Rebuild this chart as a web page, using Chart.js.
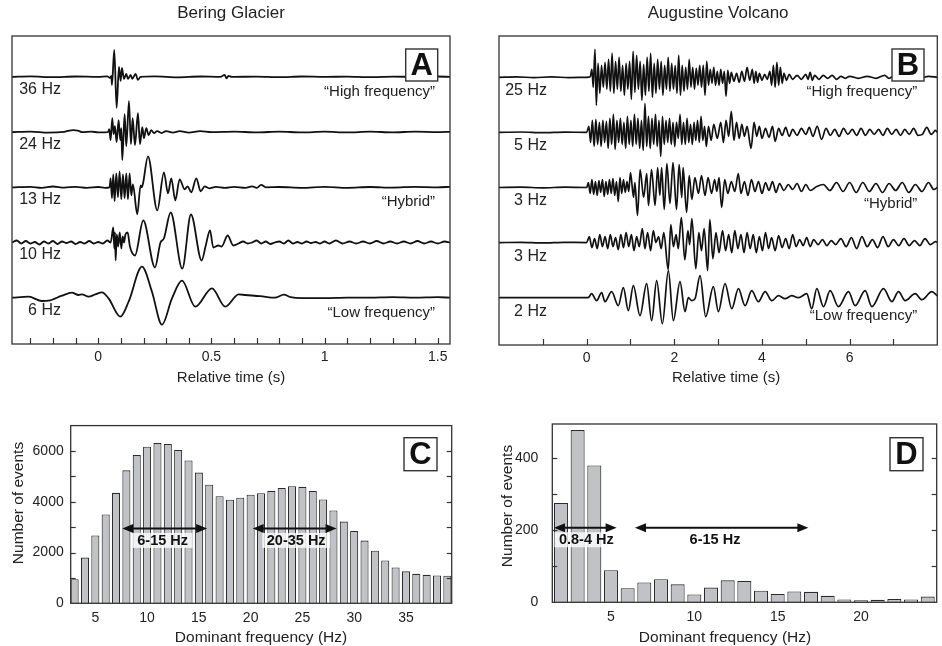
<!DOCTYPE html>
<html><head><meta charset="utf-8">
<script src="https://cdn.jsdelivr.net/npm/chart.js@4.4.1/dist/chart.umd.min.js"></script>
<style>
html,body{margin:0;padding:0;background:#fff;}
#wrap{position:relative;width:942px;height:646px;overflow:hidden;background:#fff;}
canvas{position:absolute;}
</style></head><body>
<div id="wrap">
<canvas id="cA" width="470" height="395" style="left:0;top:0"></canvas>
<canvas id="cB" width="472" height="395" style="left:470px;top:0"></canvas>
<canvas id="cC" width="470" height="251" style="left:0;top:395px"></canvas>
<canvas id="cD" width="472" height="251" style="left:470px;top:395px"></canvas>
</div>
<script>
// ---------- DATA ----------
const panelTitles = ['Bering Glacier', 'Augustine Volcano'];
const traceLabelsA = ['36 Hz', '24 Hz', '13 Hz', '10 Hz', '6 Hz'];
const traceLabelsB = ['25 Hz', '5 Hz', '3 Hz', '3 Hz', '2 Hz'];
const typeLabels = ['\u201cHigh frequency\u201d', '\u201cHybrid\u201d', '\u201cLow frequency\u201d'];
const timeTicksA = [0, 0.5, 1, 1.5];
const timeTickLabelsA = ['0', '0.5', '1', '1.5'];
const timeMinorA = [-0.3, -0.2, -0.1, 0, 0.1, 0.2, 0.3, 0.4, 0.5, 0.6, 0.7, 0.8, 0.9, 1, 1.1, 1.2, 1.3, 1.4, 1.5];
const timeTicksB = [0, 2, 4, 6];
const timeTickLabelsB = ['0', '2', '4', '6'];
const timeMinorB = [-1, 0, 1, 2, 3, 4, 5, 6, 7];

// Bering Glacier traces: [time (s), amplitude]
const traceA36 = [[-0.381,0],[-0.3,0.5],[-0.2,-0.3],[-0.1,0.4],[0,0],[0.04,0.5],[0.052,-1],[0.058,1],[0.0605,-8],[0.0708,27],[0.0812,-31],[0.0915,10],[0.0989,-4],[0.1047,9],[0.1136,-2],[0.1239,3],[0.1312,-2],[0.1433,2],[0.150,-2],[0.165,3],[0.175,-3],[0.187,0],[0.25,0.5],[0.35,-0.4],[0.45,0.4],[0.54,0],[0.558,2],[0.567,-1.5],[0.575,1],[0.59,0],[0.7,0.3],[0.8,-0.3],[0.9,0.4],[1.0,0],[1.1,0.3],[1.2,-0.3],[1.3,0.3],[1.4,0],[1.5,0.4],[1.554,0]];
const traceA24 = [[-0.381,0],[-0.3,0.5],[-0.22,-0.5],[-0.15,0.3],[-0.11,2],[-0.09,1.5],[-0.07,0],[-0.03,0.5],[0,-0.3],[0.0429,0],[0.0487,3],[0.0547,-8],[0.0620,14],[0.0679,-2],[0.0738,6],[0.0812,-10],[0.0900,12],[0.0974,-8],[0.1018,4],[0.1062,-28],[0.1165,18],[0.1239,-14],[0.1357,31],[0.1445,-12],[0.1519,14],[0.1622,-13],[0.1754,19],[0.1843,-12],[0.1946,5],[0.2019,-6],[0.2122,4],[0.2226,-3],[0.2343,2],[0.2461,-1],[0.26,1],[0.28,-1],[0.30,1],[0.33,-0.5],[0.36,1],[0.40,-0.5],[0.45,1],[0.50,0],[0.6,0.5],[0.7,-0.3],[0.8,0.5],[0.9,-0.3],[1.0,0.4],[1.1,-0.3],[1.2,0.4],[1.3,-0.2],[1.4,0.4],[1.5,0],[1.554,0.3]];
const traceA13 = [[-0.381,0],[-0.3,0.5],[-0.25,-0.5],[-0.2,0.8],[-0.15,-0.3],[-0.1,0.5],[-0.05,-0.5],[0,0.3],[0.03,-0.5],[0.050,0],[0.0547,9],[0.0605,-11],[0.0664,13],[0.0723,-14],[0.0797,14],[0.0870,-10],[0.0944,16],[0.1018,-12],[0.1091,13],[0.1165,-11],[0.1239,14],[0.1312,-12],[0.1386,14],[0.146,-8],[0.153,3],[0.1725,-27],[0.187,2],[0.192,0],[0.198,4],[0.2196,31],[0.2608,-23],[0.2903,15],[0.308,-6],[0.3227,9],[0.3404,-13],[0.3596,8],[0.3817,-2],[0.395,1],[0.411,-5],[0.4332,9],[0.4523,-4],[0.470,1],[0.49,-1],[0.52,0.5],[0.56,-0.5],[0.60,0.5],[0.65,-0.5],[0.68,1],[0.70,-0.5],[0.72,2.5],[0.74,0],[0.8,0.3],[0.9,-0.5],[1.0,0.5],[1.1,-0.5],[1.2,0.3],[1.3,-0.3],[1.4,0.5],[1.5,0],[1.554,0.5]];
const traceA10 = [[-0.381,0],[-0.36,2],[-0.34,-1],[-0.32,1.5],[-0.30,-1],[-0.28,0.5],[-0.26,-2],[-0.24,1],[-0.22,-1],[-0.20,1.5],[-0.18,-1.5],[-0.16,1],[-0.14,-0.5],[-0.12,1],[-0.10,-1.5],[-0.08,0.5],[-0.06,-1],[-0.04,1.5],[-0.02,-1],[0,0.5],[0.02,-1],[0.04,2],[0.055,0],[0.0664,15],[0.0710,-6],[0.0740,10],[0.0768,-18],[0.082,8],[0.088,-4],[0.095,10],[0.102,-6],[0.108,6],[0.114,0],[0.120,8],[0.1298,10],[0.140,-4],[0.1622,-13],[0.199,22],[0.2506,-25],[0.275,0],[0.29,4],[0.3198,30],[0.3713,-26],[0.4096,28],[0.4568,-18],[0.475,-3],[0.4936,12],[0.5083,-5],[0.53,-3],[0.545,-4],[0.5717,7],[0.5967,-3],[0.62,-1],[0.64,1],[0.66,-1],[0.68,0],[0.70,2],[0.72,-1],[0.74,1],[0.76,-1.5],[0.78,0],[0.80,1],[0.82,-1],[0.84,2],[0.86,-1],[0.88,0.5],[0.90,-1],[0.92,1],[0.94,-0.5],[0.96,0.5],[0.98,-1],[1.00,1],[1.02,-1],[1.05,2],[1.08,-1],[1.11,1],[1.14,-1],[1.17,1],[1.20,-1],[1.23,1.5],[1.26,-1],[1.29,1],[1.32,-1],[1.35,1],[1.38,-1],[1.41,1.5],[1.44,-1],[1.47,1],[1.50,-1],[1.53,1],[1.554,0]];
const traceA6 = [[-0.381,0],[-0.3077,1],[-0.2488,-3.3],[-0.2193,-3],[-0.1604,2],[-0.1162,5],[-0.0868,2.7],[-0.072,3.3],[-0.0426,1],[-0.0131,3.3],[0.0164,5.3],[0.0458,-0.7],[0.0974,-19],[0.1342,-4],[0.1931,31],[0.2373,6],[0.2815,-27],[0.3257,-0.7],[0.3699,17],[0.4288,-9],[0.5024,9.3],[0.5613,-9],[0.6203,3.3],[0.6497,2.7],[0.716,1.5],[0.78,0],[0.82,3],[0.85,0.5],[0.9,-0.5],[1.0,-0.5],[1.1,0],[1.2,0],[1.3,0.5],[1.4,0],[1.5,0.5],[1.554,0]];

// Augustine Volcano traces: [time (s), amplitude]
const traceB25 = [[-2,0],[-1.6,0.4],[-1.2,-0.3],[-0.8,0.4],[-0.4,-0.3],[0,0],[0.08,0.5],[0.12,8],[0.15,-10],[0.19,28],[0.22,-28],[0.26,14],[0.30,-16],[0.34,12],[0.38,-10],[0.42,15],[0.46,-12],[0.50,18],[0.54,-14],[0.58,24],[0.62,-16],[0.66,16],[0.70,-12],[0.74,20],[0.78,-14],[0.82,12],[0.86,-18],[0.90,14],[0.94,-12],[0.98,16],[1.02,-22],[1.06,26],[1.10,-15],[1.14,22],[1.18,-12],[1.22,16],[1.26,-23],[1.30,13],[1.34,-18],[1.38,20],[1.42,-14],[1.46,24],[1.50,-20],[1.54,14],[1.58,-16],[1.62,18],[1.66,-12],[1.70,16],[1.74,-18],[1.78,12],[1.82,-12],[1.86,20],[1.90,-14],[1.94,14],[1.98,-12],[2.02,12],[2.06,-16],[2.10,22],[2.14,-18],[2.18,12],[2.22,-14],[2.26,10],[2.30,-12],[2.34,18],[2.38,-10],[2.42,10],[2.46,-12],[2.50,9],[2.54,-8],[2.58,12],[2.62,-10],[2.66,12],[2.70,-18],[2.74,16],[2.78,-8],[2.82,8],[2.86,-6],[2.90,10],[2.94,-8],[2.98,6],[3.02,-8],[3.06,8],[3.10,-6],[3.14,6],[3.18,-19],[3.22,7],[3.26,-6],[3.30,5],[3.36,-4],[3.42,4],[3.48,-5],[3.54,6],[3.60,-4],[3.66,10],[3.72,-3],[3.78,8],[3.82,-6],[3.86,6],[3.90,-5],[3.94,4],[4.00,-3],[4.06,3],[4.12,-2],[4.18,6],[4.22,-8],[4.26,12],[4.30,-10],[4.34,15],[4.38,-8],[4.42,10],[4.46,-6],[4.50,4],[4.56,-3],[4.62,3],[4.70,-2],[4.80,2],[4.90,-2],[5.00,3],[5.05,-2],[5.10,5],[5.15,-3],[5.20,2],[5.30,-2],[5.40,2],[5.50,-1],[5.60,2],[5.70,-2],[5.80,1],[5.90,-1],[6.00,1],[6.20,-1],[6.40,1],[6.60,-1],[6.80,2],[6.90,-1],[7.00,1],[7.20,-1],[7.40,1],[7.60,-1],[7.80,1],[8.00,0]];
const traceB5 = [[-2,0],[-1.5,0.4],[-1,-0.3],[-0.5,0.3],[0,0],[0.05,6],[0.09,-10],[0.13,12],[0.17,-14],[0.21,13],[0.25,-12],[0.29,10],[0.33,-14],[0.37,12],[0.41,-10],[0.45,11],[0.49,-16],[0.53,14],[0.57,-12],[0.61,18],[0.65,-17],[0.69,12],[0.73,-10],[0.77,14],[0.81,-12],[0.85,10],[0.89,-16],[0.93,16],[0.97,-12],[1.01,12],[1.05,-14],[1.09,18],[1.13,-12],[1.17,14],[1.21,-16],[1.25,12],[1.29,-18],[1.33,29],[1.37,-14],[1.41,16],[1.45,-16],[1.49,14],[1.53,-12],[1.57,18],[1.61,-14],[1.65,12],[1.69,-24],[1.73,16],[1.77,-12],[1.81,12],[1.85,-10],[1.89,14],[1.93,-12],[1.97,10],[2.01,-14],[2.05,10],[2.09,-6],[2.13,18],[2.17,-12],[2.21,10],[2.25,-12],[2.29,14],[2.33,-10],[2.37,8],[2.41,-12],[2.45,10],[2.49,-8],[2.53,12],[2.57,-10],[2.61,16],[2.65,-8],[2.69,6],[2.73,-14],[2.78,6],[2.84,-8],[2.90,8],[2.98,-6],[3.06,10],[3.12,-10],[3.18,12],[3.24,-4],[3.30,21],[3.36,-8],[3.42,10],[3.48,-6],[3.54,8],[3.60,-4],[3.66,6],[3.75,-16],[3.82,10],[3.88,-4],[3.94,6],[4.00,-6],[4.08,4],[4.16,-5],[4.24,6],[4.30,-9],[4.38,4],[4.46,-3],[4.54,5],[4.62,-4],[4.70,3],[4.80,-3],[4.90,4],[5.00,-2],[5.08,5],[5.16,-4],[5.26,6],[5.36,-7],[5.46,4],[5.56,-3],[5.66,3],[5.76,-4],[5.86,4],[5.96,-2],[6.06,3],[6.16,-3],[6.26,4],[6.36,-3],[6.46,3],[6.56,-2],[6.66,3],[6.76,-3],[6.86,4],[6.96,-2],[7.06,3],[7.16,-3],[7.26,3],[7.36,-2],[7.46,4],[7.56,-3],[7.66,-2],[7.76,5],[7.86,-2],[7.96,2],[8.00,0]];
const traceB3a = [[-2,0],[-1.5,0.3],[-1,-0.3],[-0.5,0.3],[0,0],[0.04,5],[0.08,-6],[0.12,8],[0.16,-7],[0.20,6],[0.24,-8],[0.28,7],[0.32,-5],[0.36,8],[0.40,-9],[0.44,6],[0.48,-7],[0.52,8],[0.56,-6],[0.60,9],[0.64,-8],[0.68,6],[0.72,-14],[0.76,10],[0.80,-6],[0.84,8],[0.88,-5],[0.92,6],[0.96,-4],[1.00,15],[1.07,-10],[1.10,5],[1.16,-28],[1.22,18],[1.30,-10],[1.37,14],[1.41,-18],[1.48,18],[1.56,-18],[1.62,20],[1.67,-8],[1.71,20],[1.77,-22],[1.83,24],[1.90,-16],[1.97,25],[2.05,-22],[2.11,23],[2.17,-10],[2.20,20],[2.28,-25],[2.34,12],[2.40,-12],[2.47,10],[2.55,-6],[2.62,12],[2.70,-8],[2.77,10],[2.85,-6],[2.92,8],[2.97,-4],[3.02,10],[3.08,-20],[3.15,8],[3.22,-6],[3.30,6],[3.38,-4],[3.46,14],[3.52,-6],[3.60,6],[3.68,-8],[3.76,8],[3.84,-4],[3.92,6],[4.00,-6],[4.08,5],[4.16,-3],[4.24,6],[4.32,-5],[4.40,4],[4.50,-3],[4.60,3],[4.70,-2],[4.80,4],[4.90,-4],[5.00,3],[5.10,-3],[5.25,1],[5.40,3],[5.55,-3],[5.70,5],[5.85,-4],[6.00,5],[6.15,-5],[6.30,5],[6.45,-4],[6.60,4],[6.75,-5],[6.90,4],[7.05,-3],[7.20,5],[7.35,-5],[7.50,3],[7.65,-4],[7.80,5],[7.92,-2],[8.00,0]];
const traceB3b = [[-2,0],[-1.5,0.3],[-1,-0.3],[-0.5,0.3],[0,0],[0.06,6],[0.12,-5],[0.18,4],[0.24,-6],[0.30,8],[0.36,-4],[0.42,6],[0.48,-6],[0.54,8],[0.60,-4],[0.66,5],[0.72,-7],[0.78,8],[0.84,-5],[0.90,10],[0.96,-4],[1.02,8],[1.08,-8],[1.14,6],[1.20,-4],[1.27,14],[1.33,-6],[1.39,10],[1.46,-8],[1.52,12],[1.58,0],[1.64,6],[1.70,-6],[1.76,10],[1.86,-27],[1.92,18],[1.98,-4],[2.04,8],[2.09,-6],[2.16,25],[2.24,-17],[2.31,12],[2.35,-2],[2.40,24],[2.49,-26],[2.56,10],[2.62,-8],[2.68,14],[2.76,-28],[2.81,23],[2.88,-16],[2.95,10],[3.02,-10],[3.10,12],[3.17,-8],[3.24,8],[3.31,-10],[3.38,12],[3.45,-6],[3.52,8],[3.59,-10],[3.66,10],[3.73,-6],[3.80,8],[3.87,-10],[3.94,6],[4.01,-8],[4.08,10],[4.15,-6],[4.22,5],[4.30,-8],[4.38,7],[4.46,-5],[4.54,4],[4.62,-6],[4.70,8],[4.78,-4],[4.86,3],[4.94,-3],[5.02,5],[5.10,-4],[5.18,3],[5.28,-2],[5.38,3],[5.48,-3],[5.58,2],[5.68,-2],[5.80,4],[5.92,-4],[6.04,5],[6.16,-6],[6.28,6],[6.40,-4],[6.52,3],[6.64,-5],[6.76,6],[6.88,-4],[7.00,3],[7.12,-3],[7.24,4],[7.36,-3],[7.48,2],[7.60,-3],[7.72,4],[7.84,-2],[7.96,1],[8.00,0]];
const traceB2 = [[-2,0],[-1,0],[0,0],[0.05,0.5],[0.113,4],[0.227,-3],[0.342,5],[0.418,-4],[0.570,6],[0.722,-8],[0.837,10],[0.951,-13],[1.065,12],[1.217,-18],[1.369,14],[1.483,-23],[1.597,17],[1.727,-26],[1.864,27],[1.978,-23],[2.130,16],[2.244,-14],[2.320,0],[2.400,-3],[2.473,-1],[2.587,22],[2.716,-19],[2.891,11],[3.005,-14],[3.157,14],[3.310,-11],[3.462,9],[3.614,-8],[3.766,7],[3.918,-4],[4.071,6],[4.223,-3],[4.375,2],[4.527,-1],[4.679,2],[4.831,0],[5.022,4],[5.136,-11],[5.250,9],[5.403,-9],[5.555,7],[5.745,-9],[5.974,6],[6.126,-8],[6.354,7],[6.507,-9],[6.773,9],[6.963,-4],[7.115,6],[7.267,-3],[7.496,4],[7.648,-2],[7.876,6],[8.00,2]];

// Histograms
const freqC = [3,4,5,6,7,8,9,10,11,12,13,14,15,16,17,18,19,20,21,22,23,24,25,26,27,28,29,30,31,32,33,34,35,36,37,38,39];
const countC = [950,1800,2670,3500,4350,5240,5840,6170,6310,6280,6040,5630,5150,4670,4220,4080,4160,4280,4340,4430,4540,4610,4590,4420,4090,3660,3220,2850,2470,2070,1690,1410,1260,1160,1120,1100,1085];
const freqTicksC = [5,10,15,20,25,30,35];
const freqTickLabelsC = ['5','10','15','20','25','30','35'];
const countTicksC = [0,2000,4000,6000];
const countTickLabelsC = ['0','2000','4000','6000'];
const countMinorC = [1000,2000,3000,4000,5000,6000];
const bandsC = [{from:7.6, to:15.8, label:'6-15 Hz', labelX:11.5}, {from:20.2, to:28.3, label:'20-35 Hz', labelX:24.4}];

const freqD = [2,3,4,5,6,7,8,9,10,11,12,13,14,15,16,17,18,19,20,21,22,23,24];
const countD = [276,478,380,89,39,55,64,50,22,41,61,59,32,23,30,29,18,8,6,7,9,8,16];
const freqTicksD = [5,10,15,20];
const freqTickLabelsD = ['5','10','15','20'];
const countTicksD = [0,200,400];
const countTickLabelsD = ['0','200','400'];
const countMinorD = [100,200,300,400];
const bandsD = [{from:1.58, to:5.34, label:'0.8-4 Hz', labelX:3.52}, {from:6.44, to:16.84, label:'6-15 Hz', labelX:11.24}];

// ---------- DRAWING ----------
const FONT = '"Liberation Sans", Arial, Helvetica, sans-serif';
const INK = '#222';
function txt(ctx, s, x, y, size, o) {
  o = o || {};
  ctx.font = (o.bold ? 'bold ' : '') + size + 'px ' + FONT;
  ctx.fillStyle = o.color || INK;
  ctx.textAlign = o.align || 'center';
  ctx.textBaseline = 'middle';
  ctx.fillText(s, x, y);
}
function letterBox(ctx, L, x0, y0, w, h, size) {
  ctx.fillStyle = '#fff';
  ctx.fillRect(x0, y0, w, h);
  ctx.strokeStyle = '#333'; ctx.lineWidth = 1.4;
  ctx.strokeRect(x0, y0, w, h);
  txt(ctx, L, x0 + w / 2, y0 + h / 2 + 1.5, size, {bold: true, color: '#111'});
}
function frame(ctx, a) {
  ctx.strokeStyle = '#333'; ctx.lineWidth = 1.3;
  ctx.strokeRect(a.left, a.top, a.right - a.left, a.bottom - a.top);
}
function arrow(ctx, x1, x2, y) {
  const hl = 11, hw = 4.5;
  ctx.strokeStyle = '#111'; ctx.fillStyle = '#111'; ctx.lineWidth = 2;
  ctx.beginPath(); ctx.moveTo(x1 + hl - 1, y); ctx.lineTo(x2 - hl + 1, y); ctx.stroke();
  ctx.beginPath(); ctx.moveTo(x1, y); ctx.lineTo(x1 + hl, y - hw); ctx.lineTo(x1 + hl, y + hw); ctx.closePath(); ctx.fill();
  ctx.beginPath(); ctx.moveTo(x2, y); ctx.lineTo(x2 - hl, y - hw); ctx.lineTo(x2 - hl, y + hw); ctx.closePath(); ctx.fill();
}

function waveChart(id, traces, cfg) {
  const base = i => cfg.base0 + (traces.length - 1 - i) * cfg.gap;
  return new Chart(document.getElementById(id), {
    type: 'line',
    data: {datasets: traces.map((tr, i) => ({
      data: tr.map(p => ({x: p[0], y: base(i) + p[1]})),
      borderColor: '#111', borderWidth: cfg.lw, pointRadius: 0, fill: false,
      cubicInterpolationMode: 'monotone'
    }))},
    options: {
      responsive: false, animation: false, events: [], devicePixelRatio: 1,
      layout: {padding: cfg.pad},
      plugins: {legend: {display: false}, tooltip: {enabled: false}},
      scales: {
        x: {type: 'linear', min: cfg.xmin, max: cfg.xmax,
            afterBuildTicks: s => { s.ticks = cfg.ticks.map(v => ({value: v})); },
            afterFit: s => { s.height = cfg.xh; },
            grid: {display: false, drawTicks: false}, border: {display: false},
            ticks: {autoSkip: false, maxRotation: 0, padding: 5, color: INK,
                    font: {family: FONT, size: 14}, callback: (v, i) => cfg.tickLabels[i]}},
        y: {display: false, min: 0, max: cfg.ymax}
      }
    },
    plugins: [{id: 'deco', afterDraw(chart) {
      const ctx = chart.ctx, a = chart.chartArea, x = chart.scales.x, y = chart.scales.y;
      ctx.save();
      frame(ctx, a);
      ctx.strokeStyle = '#333'; ctx.lineWidth = 1.2;
      cfg.minor.forEach(v => {
        const px = Math.round(x.getPixelForValue(v)) + 0.5;
        ctx.beginPath(); ctx.moveTo(px, a.bottom); ctx.lineTo(px, a.bottom - 6); ctx.stroke();
      });
      cfg.labels.forEach((L, i) => {
        const py = y.getPixelForValue(base(i));
        txt(ctx, L, a.left + cfg.labelDx, py + cfg.labelDy, 16, {align: 'right'});
      });
      [0, 2, 4].forEach((ti, k) => {
        const py = y.getPixelForValue(base(ti));
        txt(ctx, typeLabels[k], a.right - cfg.typeDx, py + cfg.typeDy[k], 15, {align: 'right'});
      });
      letterBox(ctx, cfg.letter, a.right - cfg.boxDx, a.top + 13, 32, 32, 31);
      txt(ctx, cfg.title, (a.left + a.right) / 2, 13, 17);
      txt(ctx, 'Relative time (s)', (a.left + a.right) / 2 + cfg.xtDx, 378, 15);
      ctx.restore();
    }}]
  });
}

function barChart(id, freqs, counts, cfg) {
  return new Chart(document.getElementById(id), {
    type: 'bar',
    data: {datasets: [{
      data: freqs.map((f, i) => ({x: f, y: counts[i]})),
      backgroundColor: '#c1c2c6', borderColor: '#2b2b2b', borderWidth: 1.1,
      barPercentage: cfg.barPct, categoryPercentage: 1, borderSkipped: 'bottom'
    }]},
    options: {
      responsive: false, animation: false, events: [], devicePixelRatio: 1,
      layout: {padding: cfg.pad},
      plugins: {legend: {display: false}, tooltip: {enabled: false}},
      scales: {
        x: {type: 'linear', offset: false, min: cfg.xmin, max: cfg.xmax,
            afterBuildTicks: s => { s.ticks = cfg.xticks.map(v => ({value: v})); },
            afterFit: s => { s.height = cfg.xh; },
            grid: {display: false, drawTicks: false}, border: {display: false},
            ticks: {autoSkip: false, maxRotation: 0, padding: 6, color: INK,
                    font: {family: FONT, size: 14}, callback: (v, i) => cfg.xlabels[i]}},
        y: {min: 0, max: cfg.ymax,
            afterBuildTicks: s => { s.ticks = cfg.yticks.map(v => ({value: v})); },
            afterFit: s => { s.width = cfg.yw; },
            grid: {display: false, drawTicks: false}, border: {display: false},
            ticks: {autoSkip: false, padding: cfg.ypad, color: INK,
                    font: {family: FONT, size: 14}, callback: (v, i) => cfg.ylabels[i]}}
      }
    },
    plugins: [{id: 'deco', afterDraw(chart) {
      const ctx = chart.ctx, a = chart.chartArea, x = chart.scales.x, y = chart.scales.y;
      ctx.save();
      frame(ctx, a);
      ctx.strokeStyle = '#333'; ctx.lineWidth = 1.2;
      cfg.yminor.forEach(v => {
        const py = Math.round(y.getPixelForValue(v)) + 0.5;
        ctx.beginPath(); ctx.moveTo(a.left, py); ctx.lineTo(a.left + 5, py); ctx.stroke();
        ctx.beginPath(); ctx.moveTo(a.right, py); ctx.lineTo(a.right - 5, py); ctx.stroke();
      });
      cfg.bands.forEach(b => {
        const py = y.getPixelForValue(cfg.arrowY);
        arrow(ctx, x.getPixelForValue(b.from), x.getPixelForValue(b.to), py);
        const cx = x.getPixelForValue(b.labelX), cy = py + 12;
        ctx.font = 'bold 14.5px ' + FONT;
        const w = ctx.measureText(b.label).width;
        ctx.fillStyle = 'rgba(255,255,255,0.78)';
        ctx.fillRect(cx - w / 2 - 4.5, cy - 7.5, w + 9, 15);
        txt(ctx, b.label, cx, cy + 0.5, 14.5, {bold: true, color: '#111'});
      });
      letterBox(ctx, cfg.letter, a.right - cfg.boxDx, a.top + cfg.boxDy, 33, 33, 31);
      txt(ctx, 'Dominant frequency (Hz)', cfg.xtX, 243, 15.5);
      ctx.translate(cfg.ytX, cfg.ytY); ctx.rotate(-Math.PI / 2);
      txt(ctx, 'Number of events', 0, 0, 15.5);
      ctx.restore();
    }}]
  });
}

waveChart('cA', [traceA36, traceA24, traceA13, traceA10, traceA6], {
  pad: {left: 12, top: 36, right: 20, bottom: 0}, xh: 51, xmin: -0.381, xmax: 1.554, ymax: 308,
  base0: 46.3, gap: 55.2, lw: 1.8, ticks: timeTicksA, tickLabels: timeTickLabelsA, minor: timeMinorA,
  labels: traceLabelsA, labelDx: 49, labelDy: 12.5, typeDx: 15, typeDy: [15, 15, 15.5],
  letter: 'A', boxDx: 44.3, title: panelTitles[0], xtDx: 0
});
waveChart('cB', [traceB25, traceB5, traceB3a, traceB3b, traceB2], {
  pad: {left: 29, top: 36, right: 4.7, bottom: 0}, xh: 50, xmin: -2, xmax: 8, ymax: 309,
  base0: 47.3, gap: 55.1, lw: 1.7, ticks: timeTicksB, tickLabels: timeTickLabelsB, minor: timeMinorB,
  labels: traceLabelsB, labelDx: 48, labelDy: 13.5, typeDx: 20, typeDy: [15, 16, 18],
  letter: 'B', boxDx: 45.3, title: panelTitles[1], xtDx: 8
});
barChart('cC', freqC, countC, {
  pad: {left: 0, top: 30.6, right: 18.3, bottom: 0}, xh: 42.7, yw: 70.7, ypad: 7,
  xmin: 2.62, xmax: 39.42, ymax: 7000, barPct: 0.78,
  xticks: freqTicksC, xlabels: freqTickLabelsC, yticks: countTicksC, ylabels: countTickLabelsC,
  yminor: countMinorC, bands: bandsC, arrowY: 2950, letter: 'C', boxDx: 47.7, boxDy: 12.1,
  xtX: 261, ytX: 19, ytY: 108
});
barChart('cD', freqD, countD, {
  pad: {left: 0, top: 29, right: 5.3, bottom: 0}, xh: 43.7, yw: 82.3, ypad: 14,
  xmin: 1.48, xmax: 24.54, ymax: 495, barPct: 0.84,
  xticks: freqTicksD, xlabels: freqTickLabelsD, yticks: countTicksD, ylabels: countTickLabelsD,
  yminor: countMinorD, bands: bandsD, arrowY: 207, letter: 'D', boxDx: 46.7, boxDy: 13.7,
  xtX: 255, ytX: 38, ytY: 111
});
</script>
</body></html>
